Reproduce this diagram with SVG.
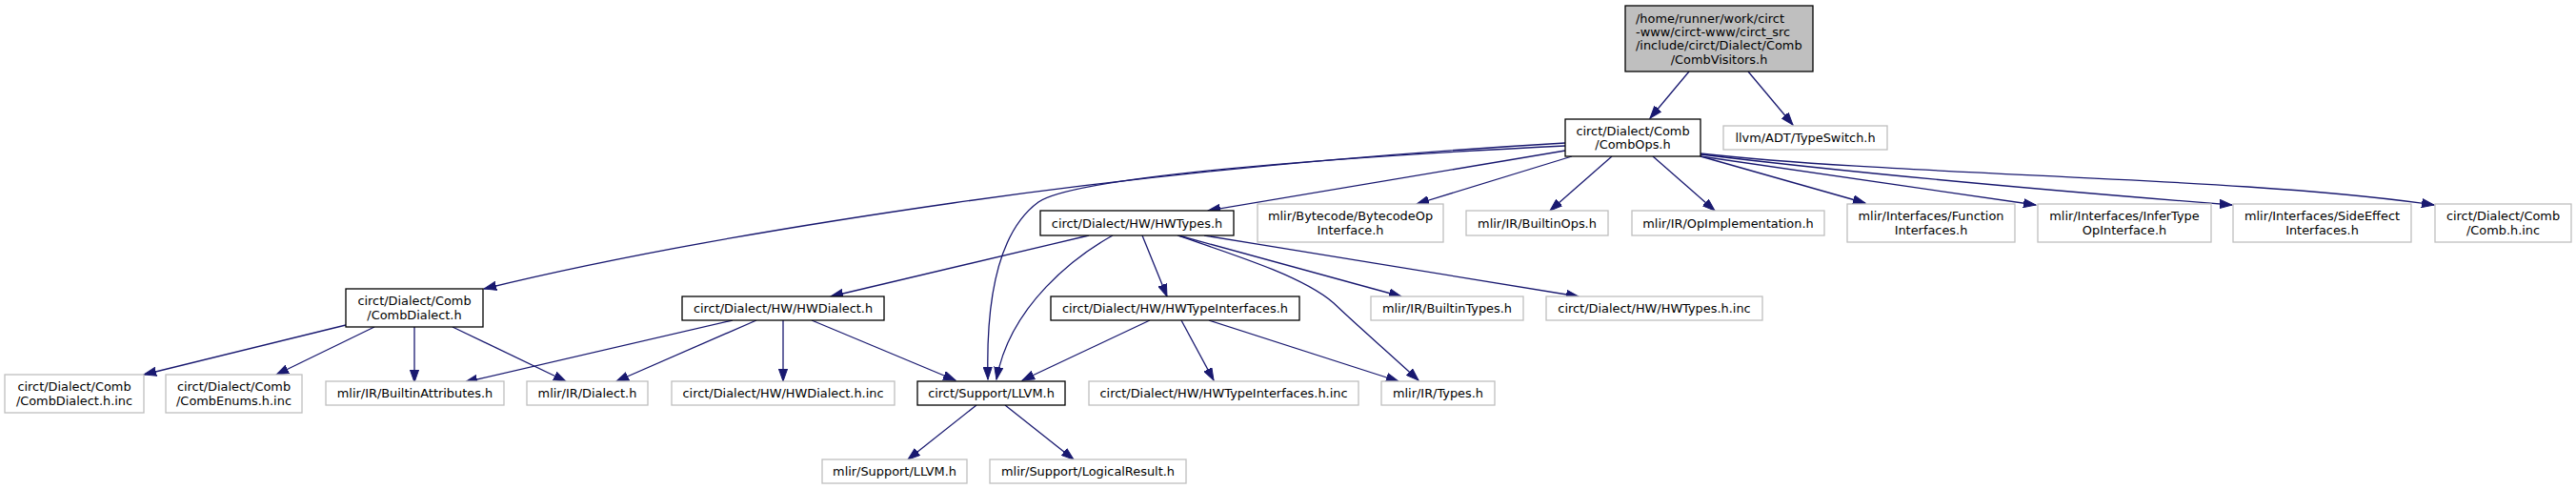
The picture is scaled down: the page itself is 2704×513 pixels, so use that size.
<svg xmlns="http://www.w3.org/2000/svg" width="2704" height="513" viewBox="0 0 2704 513">
<style>
.n rect{fill:#ffffff;stroke:#bfbfbf;stroke-width:1.3}
.d rect{fill:#ffffff;stroke:#000000;stroke-width:1.3}
.r rect{fill:#bfbfbf;stroke:#000000;stroke-width:1.3}
text{font-family:"DejaVu Sans","Liberation Sans",sans-serif;font-size:12.9px;fill:#000000;text-anchor:middle}
text.l{text-anchor:start}
#edges path{fill:none;stroke:#191970;stroke-width:1.3;marker-end:url(#a)}
</style>
<defs>
<marker id="a" markerWidth="14" markerHeight="10" refX="13" refY="5" orient="auto" markerUnits="userSpaceOnUse">
<path d="M0,0.4 L13,5 L0,9.6 z" fill="#191970" stroke="#191970" stroke-width="1"/>
</marker>
</defs>
<rect width="2704" height="513" fill="#ffffff"/>
<g id="edges">
<path d="M1773,75 L1732,124"/>
<path d="M1835,75 L1882,131"/>
<path d="M1643,150 Q1300,170 1000,213 T508,303"/>
<path d="M1643,153 C1400,165 1130,185 1090,212 C1045,245 1035,320 1037,398"/>
<path d="M1643,158 L1268,221"/>
<path d="M1650,164 L1487,214"/>
<path d="M1692,164 L1627,221"/>
<path d="M1735,164 L1800,221"/>
<path d="M1785,164 L1958,213"/>
<path d="M1785,164 L2137,215"/>
<path d="M1785,162 Q2000,188 2343,215"/>
<path d="M1785,161 C2000,185 2350,185 2555,215"/>
<path d="M1143,247 L872,311"/>
<path d="M1168,247 C1130,268 1060,320 1046,398"/>
<path d="M1199,247 L1225,311"/>
<path d="M1237,247 L1471,311"/>
<path d="M1236,247 C1310,272 1370,292 1400,318 C1425,342 1460,372 1489,399"/>
<path d="M1264,247 L1657,311"/>
<path d="M363,341 L151,393"/>
<path d="M393,343 L290,393"/>
<path d="M435,343 L435,401"/>
<path d="M475,343 L594,400"/>
<path d="M769,336 L488,401"/>
<path d="M794,336 L647,400"/>
<path d="M822,336 L822,400"/>
<path d="M852,336 L1003,399"/>
<path d="M1207,336 L1073,399"/>
<path d="M1240,336 L1274,399"/>
<path d="M1269,336 L1468,400"/>
<path d="M1025,425 L953,482"/>
<path d="M1055,425 L1127,482"/>
</g>
<g id="root" class="r"><rect x="1706" y="6" width="197" height="69"/>
<text class="l" x="1717" y="23.5">/home/runner/work/circt</text>
<text class="l" x="1717" y="37.9">-www/circt-www/circt_src</text>
<text class="l" x="1717" y="52.3">/include/circt/Dialect/Comb</text>
<text x="1804.5" y="66.7">/CombVisitors.h</text></g>
<g id="combops" class="d"><rect x="1643" y="125" width="142" height="39"/><text x="1714" y="141.9">circt/Dialect/Comb</text><text x="1714" y="156.3">/CombOps.h</text></g>
<g id="typeswitch" class="n"><rect x="1809" y="132" width="172" height="25"/><text x="1895" y="149.1">llvm/ADT/TypeSwitch.h</text></g>
<g id="hwtypes" class="d"><rect x="1092" y="221" width="203" height="26"/><text x="1193.5" y="238.6">circt/Dialect/HW/HWTypes.h</text></g>
<g id="bytecode" class="n"><rect x="1320" y="214" width="195" height="40"/><text x="1417.5" y="231.4">mlir/Bytecode/BytecodeOp</text><text x="1417.5" y="245.8">Interface.h</text></g>
<g id="builtinops" class="n"><rect x="1539" y="221" width="149" height="26"/><text x="1613.5" y="238.6">mlir/IR/BuiltinOps.h</text></g>
<g id="opimpl" class="n"><rect x="1713" y="221" width="202" height="26"/><text x="1814" y="238.6">mlir/IR/OpImplementation.h</text></g>
<g id="funciface" class="n"><rect x="1939" y="214" width="176" height="40"/><text x="2027" y="231.4">mlir/Interfaces/Function</text><text x="2027" y="245.8">Interfaces.h</text></g>
<g id="infertype" class="n"><rect x="2139" y="214" width="182" height="40"/><text x="2230" y="231.4">mlir/Interfaces/InferType</text><text x="2230" y="245.8">OpInterface.h</text></g>
<g id="sideeffect" class="n"><rect x="2344" y="214" width="187" height="40"/><text x="2437.5" y="231.4">mlir/Interfaces/SideEffect</text><text x="2437.5" y="245.8">Interfaces.h</text></g>
<g id="combhinc" class="n"><rect x="2556" y="214" width="143" height="40"/><text x="2627.5" y="231.4">circt/Dialect/Comb</text><text x="2627.5" y="245.8">/Comb.h.inc</text></g>
<g id="combdialect" class="d"><rect x="363" y="303" width="144" height="40"/><text x="435" y="320.4">circt/Dialect/Comb</text><text x="435" y="334.8">/CombDialect.h</text></g>
<g id="hwdialect" class="d"><rect x="716" y="311" width="212" height="25"/><text x="822" y="328">circt/Dialect/HW/HWDialect.h</text></g>
<g id="hwtypeifaces" class="d"><rect x="1103" y="311" width="261" height="25"/><text x="1233.5" y="328">circt/Dialect/HW/HWTypeInterfaces.h</text></g>
<g id="builtintypes" class="n"><rect x="1439" y="311" width="160" height="25"/><text x="1519" y="328">mlir/IR/BuiltinTypes.h</text></g>
<g id="hwtypeshinc" class="n"><rect x="1623" y="311" width="227" height="25"/><text x="1736.5" y="328">circt/Dialect/HW/HWTypes.h.inc</text></g>
<g id="combdialecthinc" class="n"><rect x="5" y="393" width="146" height="40"/><text x="78" y="410.4">circt/Dialect/Comb</text><text x="78" y="424.8">/CombDialect.h.inc</text></g>
<g id="combenums" class="n"><rect x="174" y="393" width="143" height="40"/><text x="245.5" y="410.4">circt/Dialect/Comb</text><text x="245.5" y="424.8">/CombEnums.h.inc</text></g>
<g id="builtinattrs" class="n"><rect x="342" y="400" width="187" height="25"/><text x="435.5" y="417">mlir/IR/BuiltinAttributes.h</text></g>
<g id="dialect" class="n"><rect x="553" y="400" width="127" height="25"/><text x="616.5" y="417">mlir/IR/Dialect.h</text></g>
<g id="hwdialecthinc" class="n"><rect x="705" y="400" width="234" height="25"/><text x="822" y="417">circt/Dialect/HW/HWDialect.h.inc</text></g>
<g id="circtllvm" class="d"><rect x="963" y="400" width="155" height="25"/><text x="1040.5" y="417">circt/Support/LLVM.h</text></g>
<g id="hwtypeifaceshinc" class="n"><rect x="1143" y="400" width="283" height="25"/><text x="1284.5" y="417">circt/Dialect/HW/HWTypeInterfaces.h.inc</text></g>
<g id="types" class="n"><rect x="1450" y="400" width="119" height="25"/><text x="1509.5" y="417">mlir/IR/Types.h</text></g>
<g id="mlirllvm" class="n"><rect x="863" y="482" width="152" height="25"/><text x="939" y="499">mlir/Support/LLVM.h</text></g>
<g id="logicalresult" class="n"><rect x="1039" y="482" width="206" height="25"/><text x="1142" y="499">mlir/Support/LogicalResult.h</text></g>
</svg>
